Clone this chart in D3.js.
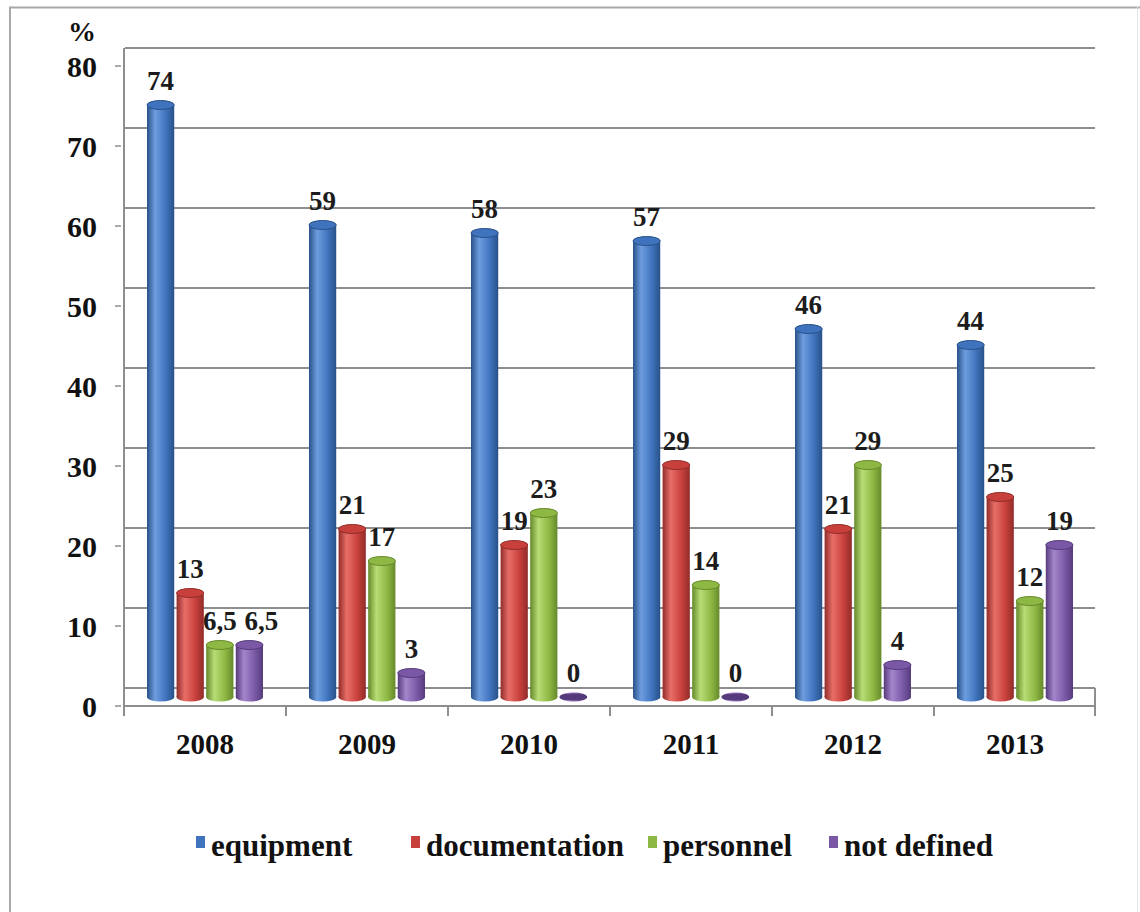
<!DOCTYPE html>
<html>
<head>
<meta charset="utf-8">
<script src="https://cdn.jsdelivr.net/npm/d3@7"></script>
<style>
	body { margin: 0; background: #fff; }
</style>
</head>
<body>
<div id="chart"></div>
<script>
var years = ["2008", "2009", "2010", "2011", "2012", "2013"];
var series_names = ["equipment", "documentation", "personnel", "not defined"];
var equipment = [74, 59, 58, 57, 46, 44];
var documentation = [13, 21, 19, 29, 21, 25];
var personnel = [6.5, 17, 23, 14, 29, 12];
var not_defined = [6.5, 3, 0, 0, 4, 19];
var y_ticks = [0, 10, 20, 30, 40, 50, 60, 70, 80];

// base, highlight, shadow for the cylinder look
var colors = [
	["#3f73bd", "#6e9de0", "#285188"],
	["#c8403c", "#e86e68", "#912c29"],
	["#8db843", "#b8dc76", "#66892b"],
	["#7a58a6", "#a486cb", "#563b7c"]
];

var values = [equipment, documentation, personnel, not_defined];

var w = 1140, h = 912;
var serif = "'Liberation Serif', 'Times New Roman', Times, 'DejaVu Serif', serif";

var x_ax = d3.scaleBand()
	.domain(years)
	.range([124, 1096]);
var s_ax = d3.scaleBand()
	.domain(series_names)
	.range([-58, 58])
	.paddingInner(0.08);
// bars stand in the middle of the floor, back wall higher, front axis lower
var y_ax = d3.scaleLinear()
	.domain([0, 80])
	.range([697, 57]);
var y_front = d3.scaleLinear()
	.domain([0, 80])
	.range([706, 66]);
var y_back = d3.scaleLinear()
	.domain([0, 80])
	.range([688, 48]);

var svg = d3.select("#chart").append("svg")
	.attr("width", w)
	.attr("height", h)
	.attr("font-family", serif)
	.attr("font-weight", "bold");

// outer frame
svg.append("line").attr("x1", 9).attr("x2", w).attr("y1", 7.5).attr("y2", 7.5)
	.attr("stroke", "#a8a8a8").attr("stroke-width", 2);
svg.append("line").attr("x1", 10).attr("x2", 10).attr("y1", 7).attr("y2", h)
	.attr("stroke", "#a8a8a8").attr("stroke-width", 2);
svg.append("line").attr("x1", 1137.5).attr("x2", 1137.5).attr("y1", 7).attr("y2", h)
	.attr("stroke", "#e4e4e4").attr("stroke-width", 1);

var defs = svg.append("defs");
colors.forEach(function(c, i) {
	var g = defs.append("linearGradient")
		.attr("id", "cyl" + i)
		.attr("x1", 0).attr("x2", 1).attr("y1", 0).attr("y2", 0);
	g.append("stop").attr("offset", "0%").attr("stop-color", c[2]);
	g.append("stop").attr("offset", "30%").attr("stop-color", c[1]);
	g.append("stop").attr("offset", "70%").attr("stop-color", c[0]);
	g.append("stop").attr("offset", "100%").attr("stop-color", c[2]);
});

// back wall grid
svg.selectAll(".grid")
	.data(y_ticks)
	.enter()
		.append("line")
		.attr("class", "grid")
		.attr("x1", x_ax.range()[0] + 1)
		.attr("x2", x_ax.range()[1] - 1)
		.attr("y1", function(d) { return y_back(d); })
		.attr("y2", function(d) { return y_back(d); })
		.attr("stroke", "#8e8e8e")
		.attr("stroke-width", 2);

// floor
svg.append("line")
	.attr("x1", x_ax.range()[0]).attr("x2", x_ax.range()[1] - 1)
	.attr("y1", y_front(0)).attr("y2", y_front(0))
	.attr("stroke", "#8e8e8e").attr("stroke-width", 2);
svg.append("line")
	.attr("x1", x_ax.range()[1] - 1).attr("x2", x_ax.range()[1] - 1)
	.attr("y1", y_back(0)).attr("y2", y_front(0) + 10)
	.attr("stroke", "#8e8e8e").attr("stroke-width", 2);
svg.append("line")
	.attr("x1", x_ax.range()[0]).attr("x2", x_ax.range()[0])
	.attr("y1", y_back(80)).attr("y2", y_front(0) + 10)
	.attr("stroke", "#8e8e8e").attr("stroke-width", 2);

// category ticks below the floor
svg.selectAll(".xtick")
	.data(years.slice(1))
	.enter()
		.append("line")
		.attr("class", "xtick")
		.attr("x1", function(d) { return x_ax(d); })
		.attr("x2", function(d) { return x_ax(d); })
		.attr("y1", y_front(0))
		.attr("y2", y_front(0) + 10)
		.attr("stroke", "#8e8e8e").attr("stroke-width", 2);

// y axis ticks and labels
svg.selectAll(".ytick")
	.data(y_ticks)
	.enter()
		.append("line")
		.attr("class", "ytick")
		.attr("x1", 115).attr("x2", 121)
		.attr("y1", function(d) { return y_front(d); })
		.attr("y2", function(d) { return y_front(d); })
		.attr("stroke", "#8e8e8e").attr("stroke-width", 1.5);
svg.selectAll(".ylab")
	.data(y_ticks)
	.enter()
		.append("text")
		.attr("class", "ylab")
		.attr("x", 97)
		.attr("y", function(d) { return y_front(d) + 11; })
		.attr("text-anchor", "end")
		.attr("font-size", 30)
		.attr("fill", "#111")
		.text(function(d) { return d; });
svg.append("text")
	.attr("x", 68).attr("y", 41)
	.attr("font-size", 28)
	.attr("fill", "#111")
	.text("%");

// year labels
svg.selectAll(".xlab")
	.data(years)
	.enter()
		.append("text")
		.attr("class", "xlab")
		.attr("x", function(d) { return x_ax(d) + x_ax.bandwidth() / 2; })
		.attr("y", 754)
		.attr("text-anchor", "middle")
		.attr("font-size", 29)
		.attr("fill", "#111")
		.text(function(d) { return d; });

// cylinders
var bar_data = [];
years.forEach(function(yr, i) {
	series_names.forEach(function(s, j) {
		bar_data.push({'year': yr, 'series': s, 'k': j, 'v': values[j][i]});
	});
});

var bw = s_ax.bandwidth();
var ry = 4.5;
var bars = svg.selectAll(".bar")
	.data(bar_data)
	.enter()
		.append("g")
		.attr("class", "bar")
		.attr("transform", function(d) {
			return "translate(" + (x_ax(d.year) + x_ax.bandwidth() / 2 + s_ax(d.series)) + ",0)";
		});

bars.append("ellipse")
	.attr("cx", bw / 2)
	.attr("cy", y_ax(0))
	.attr("rx", bw / 2)
	.attr("ry", ry)
	.attr("fill", function(d) { return "url(#cyl" + d.k + ")"; });
bars.append("rect")
	.attr("x", 0)
	.attr("width", bw)
	.attr("y", function(d) { return y_ax(d.v); })
	.attr("height", function(d) { return y_ax(0) - y_ax(d.v); })
	.attr("fill", function(d) { return "url(#cyl" + d.k + ")"; });
bars.append("ellipse")
	.attr("cx", bw / 2)
	.attr("cy", function(d) { return y_ax(d.v); })
	.attr("rx", bw / 2)
	.attr("ry", function(d) { return d.v == 0 ? 3 : ry; })
	.attr("fill", function(d) { return d.v == 0 ? colors[d.k][2] : colors[d.k][0]; })
	.attr("stroke", function(d) { return colors[d.k][2]; })
	.attr("stroke-width", 1);

// value labels; a label that would run into its left neighbour (same height) moves right
bars.append("text")
	.attr("x", function(d, i) {
		var prev = i % 4 > 0 ? bar_data[i - 1] : null;
		var nudge = (prev && Math.abs(prev.v - d.v) < 3) ? 12 : 0;
		return bw / 2 + nudge;
	})
	.attr("y", function(d) { return y_ax(d.v) - 15; })
	.attr("text-anchor", "middle")
	.attr("font-size", 27)
	.attr("fill", "#1c1c1c")
	.text(function(d) { return String(d.v).replace(".", ","); });

// legend
var legend_x = [196, 411, 648, 829];
var legend = svg.selectAll(".legend")
	.data(series_names)
	.enter()
		.append("g")
		.attr("class", "legend")
		.attr("transform", function(d, i) { return "translate(" + legend_x[i] + ",836)"; });
legend.append("rect")
	.attr("width", 9)
	.attr("height", 12)
	.attr("fill", function(d, i) { return colors[i][0]; });
legend.append("text")
	.attr("x", 15)
	.attr("y", 20)
	.attr("font-size", 31)
	.attr("fill", "#111")
	.text(function(d) { return d; });
</script>
</body>
</html>
